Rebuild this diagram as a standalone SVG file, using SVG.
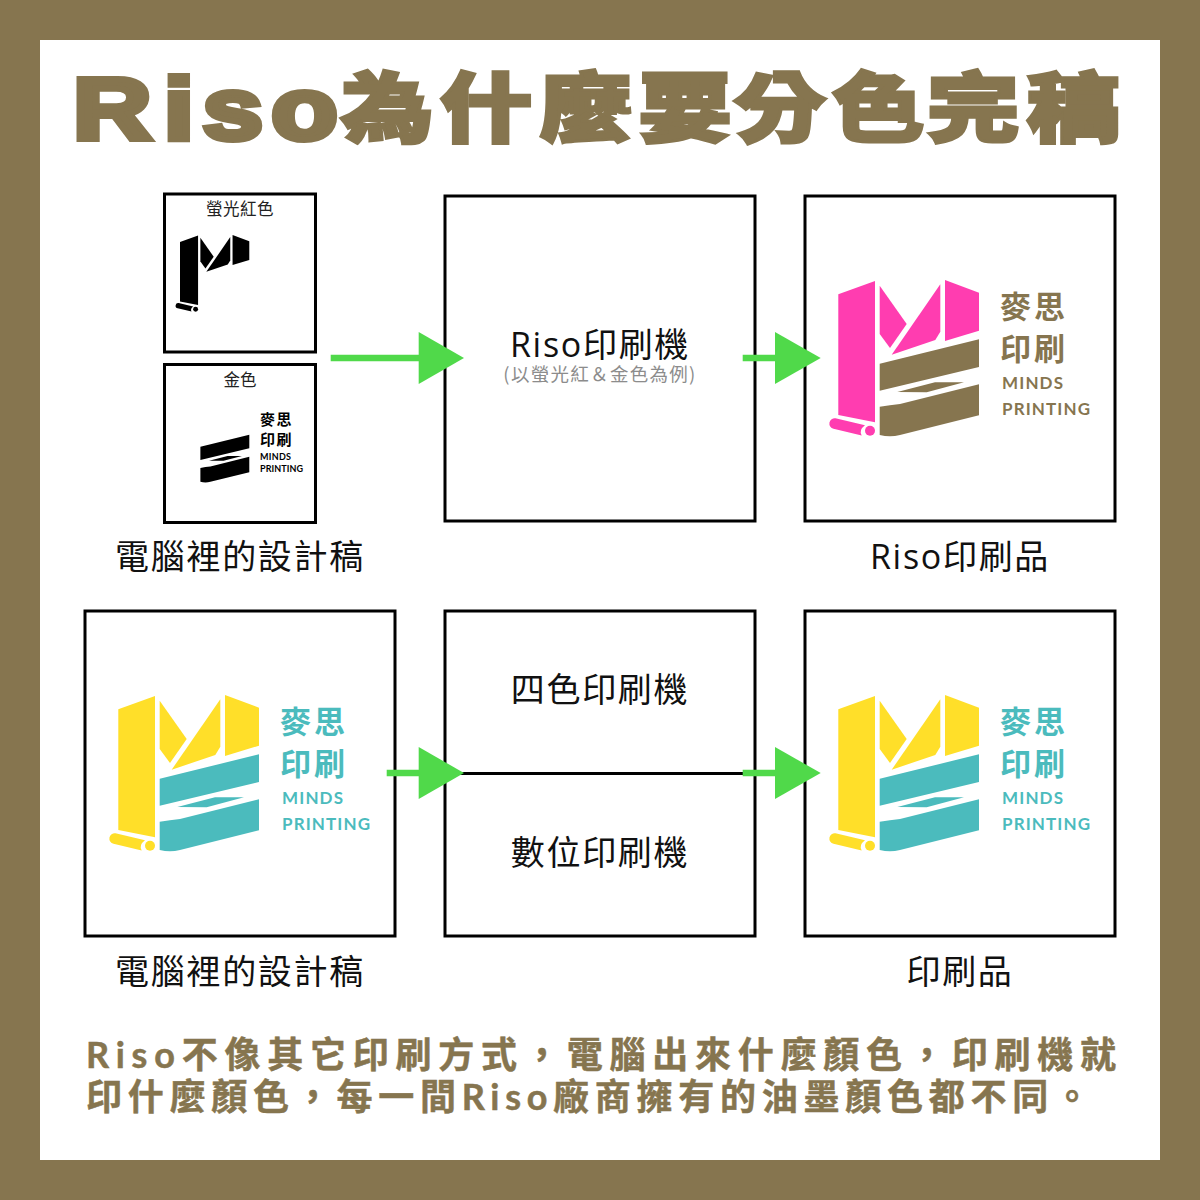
<svg xmlns="http://www.w3.org/2000/svg" xmlns:xlink="http://www.w3.org/1999/xlink" width="1200" height="1200" viewBox="0 0 1200 1200">
<style>
.box{fill:#fff;stroke:#000;stroke-width:3}
.cjk{font-family:"Noto Sans CJK TC","Noto Sans",sans-serif}
.lab{font-family:"Open Sans","Noto Sans CJK TC",sans-serif;font-size:34px;fill:#111;text-anchor:middle;letter-spacing:1.7px}
.tt{font-family:"Noto Sans CJK TC",sans-serif;font-weight:900;font-size:76px;fill:#86754f;stroke:#86754f;stroke-width:3;text-anchor:middle}
.bt{font-family:"Lato","Noto Sans CJK TC",sans-serif;font-weight:700;font-size:36px;fill:#86754f;stroke:#86754f;stroke-width:.5}
.arrow{fill:#50d94a}
.shaft{stroke:#50d94a;stroke-width:6.5}
.lt1{font-family:"Noto Sans CJK TC",sans-serif;font-weight:700;font-size:31px;letter-spacing:3px}
.lt2{font-family:"Lato","Noto Sans",sans-serif;font-weight:700;font-size:17px}
.sm{font-family:"Lato",sans-serif;font-weight:700;font-size:9px}
</style>
<defs>
<g id="top">
<path d="M838.3 294.3L875 281V422.3L838.3 415Z"/>
<path d="M879.7 285.7L906.7 324L890 348L879.7 334Z"/>
<path d="M940.3 284.3V331.7L935.3 340L891.7 354.7Z"/>
<path d="M945 280L979 292.700V330.700L945 341Z"/>
<path d="M835.500 418.200L865 425.200Q858.500 430 861.700 435.500L833.500 428.800A5.400 5.400 0 0 1 835.500 418.200Z"/>
<circle cx="870" cy="430.700" r="5"/>
</g>
<g id="bands">
<path d="M879.700 363.700L979 339.300V367L879.700 390.700Z"/>
<path d="M897.300 392L935 382.300H964L926.700 392.300Z"/>
<path d="M879.700 406.700Q890 405 900 404L979 384.300V415.300L900 435Q890 437.500 879.700 435Z"/>
</g>
<g id="brand">
<text class="lt1" x="1000" y="318">麥思</text>
<text class="lt1" x="1000" y="360">印刷</text>
<text class="lt2" x="1002" y="389" textLength="61">MINDS</text>
<text class="lt2" x="1002" y="415" textLength="88">PRINTING</text>
</g>
</defs>
<rect id="frame" width="1200" height="1200" fill="#86754f"/>
<rect id="page" x="40" y="40" width="1120" height="1120" fill="#fff"/>
<g id="title">
<text transform="scale(1.25 1)" x="58.500 131 162 217" y="139" font-family="Liberation Sans,sans-serif" font-weight="700" font-size="87" fill="#86754f" stroke="#86754f" stroke-width="6">Riso</text>
<text class="tt" transform="translate(387 136) scale(1.22 1)">為</text>
<text class="tt" transform="translate(486 136) scale(1.22 1)">什</text>
<text class="tt" transform="translate(585 136) scale(1.22 1)">麼</text>
<text class="tt" transform="translate(685 136) scale(1.22 1)">要</text>
<text class="tt" transform="translate(780 136) scale(1.22 1)">分</text>
<text class="tt" transform="translate(878 136) scale(1.22 1)">色</text>
<text class="tt" transform="translate(973 136) scale(1.22 1)">完</text>
<text class="tt" transform="translate(1073 136) scale(1.22 1)">稿</text>
</g>
<g id="node-red-plate">
<rect class="box" x="164.500" y="194" width="151" height="158"/>
<text class="cjk" x="240" y="215" font-size="16.500" letter-spacing=".5" text-anchor="middle" fill="#222">螢光紅色</text>
<use xlink:href="#top" href="#top" transform="translate(180 235) scale(.4925) translate(-838.3 -280)" fill="#000"/>
</g>
<g id="node-gold-plate">
<rect class="box" x="164.500" y="364.500" width="151" height="158"/>
<text class="cjk" x="240" y="386" font-size="16.500" text-anchor="middle" fill="#222">金色</text>
<use xlink:href="#bands" href="#bands" transform="translate(180 405.500) scale(.4925) translate(-838.3 -280)" fill="#000"/>
<text class="cjk" x="260" y="425" font-size="15" font-weight="700" letter-spacing="1.500">麥思</text>
<text class="cjk" x="260" y="445" font-size="15" font-weight="700" letter-spacing="1.500">印刷</text>
<text class="sm" x="260" y="459.500" textLength="31">MINDS</text>
<text class="sm" x="260" y="472" textLength="43">PRINTING</text>
</g>
<g id="node-riso-press">
<rect class="box" x="445" y="196" width="310" height="325"/>
<text class="lab" x="600" y="357">Riso印刷機</text>
<text class="cjk" x="600" y="381" font-size="18.500" letter-spacing="1.300" text-anchor="middle" fill="#8c8c8c">(以螢光紅＆金色為例)</text>
</g>
<g id="node-riso-print">
<rect class="box" x="805" y="196" width="310" height="325"/>
<use xlink:href="#top" href="#top" fill="#ff3db0"/>
<use xlink:href="#bands" href="#bands" fill="#86754f"/>
<use xlink:href="#brand" href="#brand" fill="#86754f"/>
</g>
<g id="node-design">
<rect class="box" x="85" y="611" width="310" height="325"/>
<g transform="translate(-720 415)">
<use xlink:href="#top" href="#top" fill="#ffdf29"/>
<use xlink:href="#bands" href="#bands" fill="#4bbbbd"/>
<use xlink:href="#brand" href="#brand" fill="#4bbbbd"/>
</g>
</g>
<g id="node-presses">
<rect class="box" x="445" y="611" width="310" height="325"/>
<line x1="445" y1="773.500" x2="755" y2="773.500" stroke="#000" stroke-width="3"/>
<text class="lab" x="600" y="702">四色印刷機</text>
<text class="lab" x="600" y="865">數位印刷機</text>
</g>
<g id="node-print">
<rect class="box" x="805" y="611" width="310" height="325"/>
<g transform="translate(0 415)">
<use xlink:href="#top" href="#top" fill="#ffdf29"/>
<use xlink:href="#bands" href="#bands" fill="#4bbbbd"/>
<use xlink:href="#brand" href="#brand" fill="#4bbbbd"/>
</g>
</g>
<g id="captions">
<text class="lab" x="240" y="569">電腦裡的設計稿</text>
<text class="lab" x="960" y="569">Riso印刷品</text>
<text class="lab" x="240" y="984">電腦裡的設計稿</text>
<text class="lab" x="960" y="984">印刷品</text>
</g>
<g id="connectors">
<line class="shaft" x1="330.700" y1="358" x2="420" y2="358"/>
<path class="arrow" d="M418.700 332L464 358L418.700 384Z"/>
<line class="shaft" x1="742.700" y1="358" x2="776" y2="358"/>
<path class="arrow" d="M775 332L820.700 358L775 384Z"/>
<line class="shaft" x1="386.700" y1="773" x2="420" y2="773"/>
<path class="arrow" d="M418.700 747L464 773L418.700 799Z"/>
<line class="shaft" x1="742.700" y1="773" x2="776" y2="773"/>
<path class="arrow" d="M775 747L820.700 773L775 799Z"/>
</g>
<g id="note">
<text class="bt" x="86" y="1068" textLength="1030" lengthAdjust="spacing">Riso不像其它印刷方式，電腦出來什麼顏色，印刷機就</text>
<text class="bt" x="86" y="1110" textLength="1004" lengthAdjust="spacing">印什麼顏色，每一間Riso廠商擁有的油墨顏色都不同。</text>
</g>
</svg>
